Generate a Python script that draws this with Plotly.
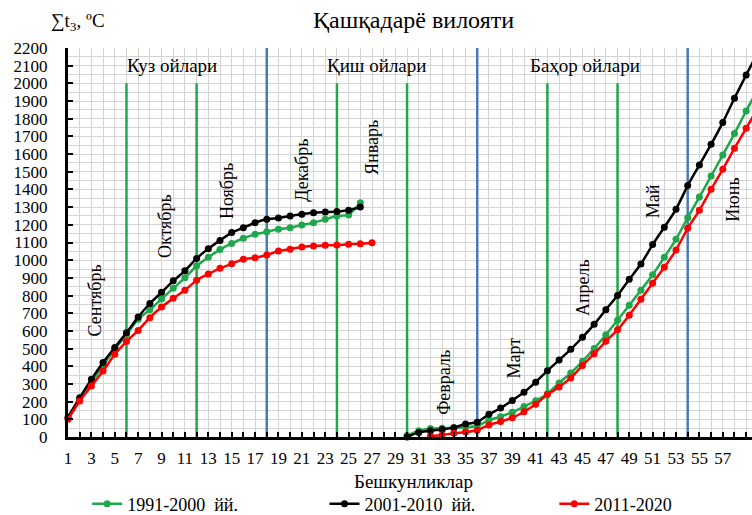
import plotly.graph_objects as go

# ---------------- data ----------------
pentads = list(range(1, 61))

s1991_2000 = [105, 212, 308, 405, 497, 578, 666, 720, 780, 841, 900, 967, 1016, 1060, 1095,
              1124, 1146, 1161, 1175, 1184, 1199, 1212, 1231, 1250, 1256, 1325, None, None, None,
              8, 35, 48, 50, 52, 55, 62, 95, 115, 140, 172, 205, 245, 305, 362, 428,
              500, 578, 660, 745, 830, 918, 1016, 1118, 1240, 1357, 1476, 1595, 1716, 1844, 1965]

s2001_2010 = [112, 222, 326, 421, 506, 590, 678, 755, 818, 883, 940, 1010, 1065, 1112, 1156,
              1184, 1212, 1231, 1238, 1250, 1260, 1268, 1272, 1275, 1282, 1301, None, None, None,
              0, 26, 36, 43, 53, 73, 84, 128, 164, 207, 253, 310, 375, 435, 496, 564,
              637, 720, 800, 892, 978, 1088, 1186, 1288, 1422, 1538, 1655, 1778, 1916, 2047, 2175]

s2011_2020 = [100, 204, 288, 373, 468, 540, 603, 675, 735, 784, 830, 886, 922, 954, 980,
              1005, 1014, 1029, 1052, 1062, 1075, 1080, 1084, 1086, 1090, 1093, 1099, None, None,
              None, None, 5, 11, 21, 28, 38, 68, 87, 109, 143, 185, 240, 283, 334, 405,
              471, 541, 606, 689, 779, 870, 960, 1057, 1180, 1282, 1401, 1514, 1633, 1746, 1860]

series_names = ["1991-2000  йй.", "2001-2010  йй.", "2011-2020"]

month_names = ["Сентябрь", "Октябрь", "Ноябрь", "Декабрь", "Январь",
               "Февраль", "Март", "Апрель", "Май", "Июнь"]
month_x = [3.3, 9.3, 14.6, 21.0, 27.0, 33.1, 39.1, 45.1, 51.1, 57.8]
month_y = [772, 1193, 1391, 1510, 1635, 308, 447, 846, 1332, 1343]

season_names = ["Куз ойлари", "Қиш ойлари", "Баҳор ойлари"]
season_x = [9.9, 27.4, 45.2]
season_y = 2100

month_bounds = [6, 12, 24, 30, 42, 48]     # green lines
season_bounds = [18, 36, 54]               # blue lines

title_text = "Қашқадарё вилояти"
y_title = "∑t<sub>3</sub>, ºC"
x_title = "Бешкунликлар"

# ---------------- style ----------------
GREEN = "#1fa84b"
BLACK = "#000000"
RED = "#ff0000"
BLUE = "#4a7ab5"
FONT = "Liberation Serif"
colors = [GREEN, BLACK, RED]

W, H = 752, 515
ML, MR, MT, MB = 68, 0, 48, 78
PH = H - MT - MB
PW = W - ML - MR


def py(pix):
    """pixel row -> paper y"""
    return (H - MB - pix) / PH


def px(pix):
    """pixel column -> paper x"""
    return (pix - ML) / PW


fig = go.Figure()
legend_ids = ["legend", "legend2", "legend3"]
for vals, name, col, lg in zip([s1991_2000, s2001_2010, s2011_2020], series_names, colors, legend_ids):
    fig.add_trace(go.Scatter(
        x=pentads, y=vals, name=name, mode="lines+markers",
        line=dict(color=col, width=2.5, shape="spline", smoothing=0.5),
        marker=dict(color=col, size=7),
        connectgaps=False, cliponaxis=False, legend=lg,
    ))

shapes = []
for b in month_bounds:
    shapes.append(dict(type="line", xref="x", yref="y", x0=b, x1=b, y0=0, y1=2000,
                       line=dict(color=GREEN, width=2.5), layer="between"))
for b in season_bounds:
    shapes.append(dict(type="line", xref="x", yref="y", x0=b, x1=b, y0=0, y1=2215,
                       line=dict(color=BLUE, width=2.5), layer="between"))

annotations = []
for n, x, y in zip(month_names, month_x, month_y):
    annotations.append(dict(text=n, x=x, y=y, xref="x", yref="y", textangle=-90,
                            showarrow=False, font=dict(family=FONT, size=18, color="black")))
for n, x in zip(season_names, season_x):
    annotations.append(dict(text=n, x=x, y=season_y, xref="x", yref="y",
                            showarrow=False, font=dict(family=FONT, size=19, color="black")))
annotations.append(dict(text=title_text, x=px(413), y=py(20), xref="paper", yref="paper",
                        yanchor="middle", showarrow=False,
                        font=dict(family=FONT, size=24, color="black")))
annotations.append(dict(text=y_title, x=px(78), y=py(22), xref="paper", yref="paper",
                        xanchor="center", yanchor="middle", showarrow=False,
                        font=dict(family=FONT, size=19, color="black")))
annotations.append(dict(text=x_title, x=px(413), y=py(482), xref="paper", yref="paper",
                        yanchor="middle", showarrow=False,
                        font=dict(family=FONT, size=19, color="black")))

leg_common = dict(orientation="h", yanchor="middle", y=1 - 504 / H, yref="container",
                  xanchor="left", bgcolor="rgba(0,0,0,0)", borderwidth=0,
                  font=dict(family=FONT, size=18, color="black"))

fig.update_layout(
    width=W, height=H,
    margin=dict(l=ML, r=MR, t=MT, b=MB, autoexpand=False),
    paper_bgcolor="white", plot_bgcolor="white",
    showlegend=True,
    legend=dict(x=0.028, **leg_common),
    legend2=dict(x=0.375, **leg_common),
    legend3=dict(x=0.711, **leg_common),
    shapes=shapes, annotations=annotations,
    font=dict(family=FONT, color="black"),
)

fig.update_xaxes(
    range=[1, 59.5], tick0=1, dtick=2, tickmode="linear",
    showgrid=True, gridcolor="#d4d4d4", gridwidth=1,
    minor=dict(dtick=1, tick0=1, showgrid=True, gridcolor="#d4d4d4", gridwidth=1,
               ticks="inside", ticklen=5, tickcolor="black", tickwidth=1.5),
    ticks="inside", ticklen=5, tickcolor="black", tickwidth=1.5,
    showline=True, linecolor="black", linewidth=3,
    zeroline=False, ticklabelstandoff=4, automargin=False,
    tickfont=dict(family=FONT, size=17, color="black"),
)
fig.update_yaxes(
    range=[0, 2200], tick0=0, dtick=100, tickmode="linear",
    showgrid=True, gridcolor="#d4d4d4", gridwidth=1,
    minor=dict(dtick=50, showgrid=True, gridcolor="#d4d4d4", gridwidth=1),
    ticks="inside", ticklen=5, tickcolor="black", tickwidth=1.5,
    showline=True, linecolor="black", linewidth=3,
    zeroline=False, ticklabelstandoff=14, automargin=False,
    tickfont=dict(family=FONT, size=17, color="black"),
)

fig.write_html("out.html")
